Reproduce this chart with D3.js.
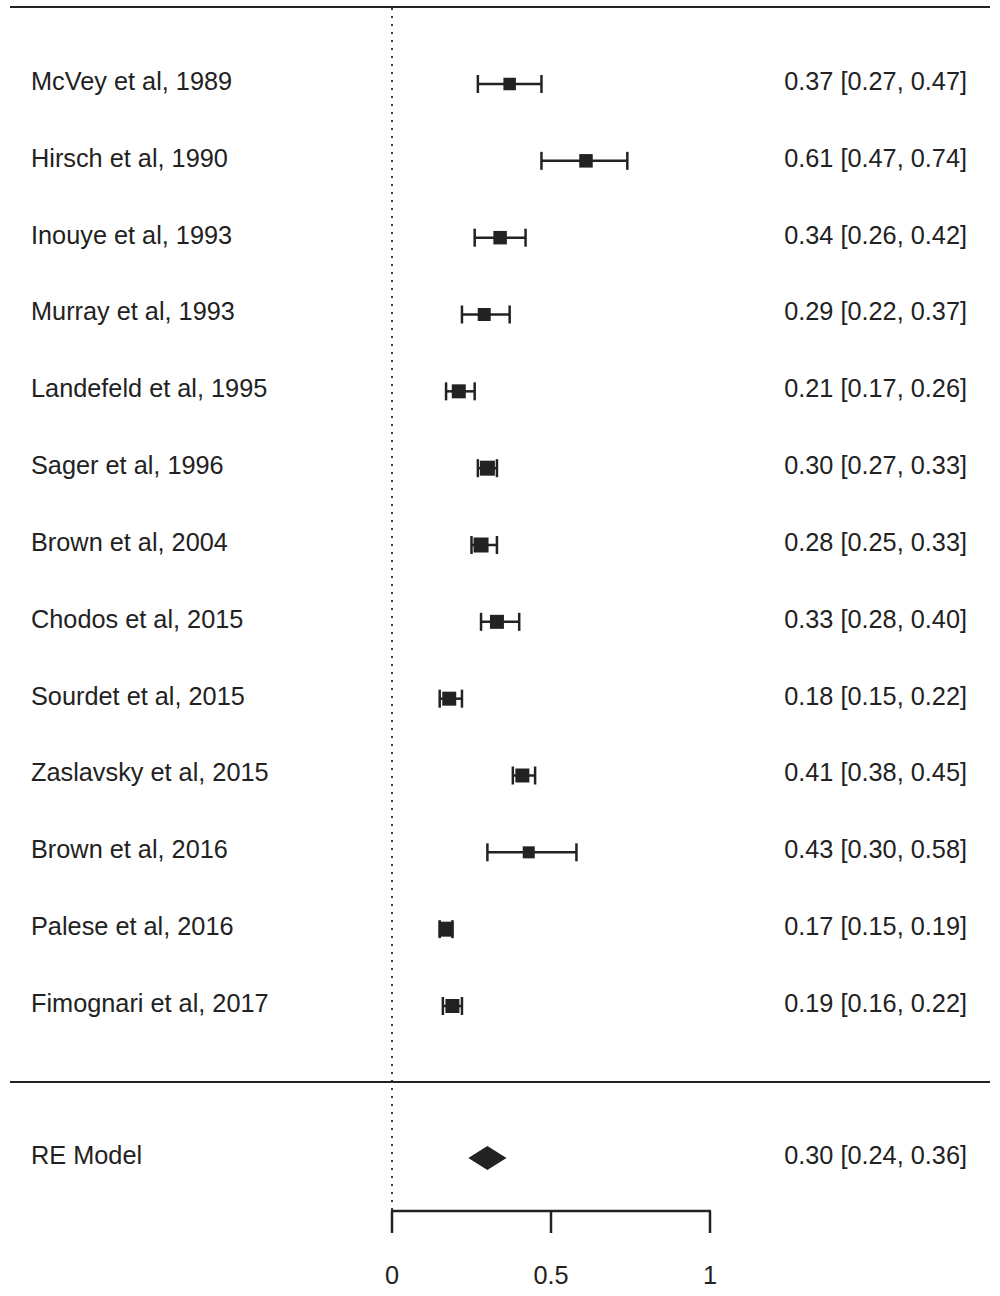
<!DOCTYPE html>
<html><head><meta charset="utf-8">
<script src="https://cdn.jsdelivr.net/npm/d3@7"></script>
<style>body{margin:0;background:#fff}svg{display:block}text{font-family:"Liberation Sans",Arial,sans-serif;fill:#222}</style>
</head><body>
<script>
const studies = ["McVey et al, 1989","Hirsch et al, 1990","Inouye et al, 1993","Murray et al, 1993","Landefeld et al, 1995","Sager et al, 1996","Brown et al, 2004","Chodos et al, 2015","Sourdet et al, 2015","Zaslavsky et al, 2015","Brown et al, 2016","Palese et al, 2016","Fimognari et al, 2017"];
const est   = [0.37,0.61,0.34,0.29,0.21,0.30,0.28,0.33,0.18,0.41,0.43,0.17,0.19];
const lower = [0.27,0.47,0.26,0.22,0.17,0.27,0.25,0.28,0.15,0.38,0.30,0.15,0.16];
const upper = [0.47,0.74,0.42,0.37,0.26,0.33,0.33,0.40,0.22,0.45,0.58,0.19,0.22];
const weights = [12.5,13.5,13.5,13,14,15,15,14,14,14,12,15,14];
const reLabel = "RE Model";
const reEst = 0.30, reLower = 0.24, reUpper = 0.36;
const xTicks = [0, 0.5, 1];
const xTickLabels = ["0","0.5","1"];

const W = 1000, H = 1296;
const svg = d3.select("body").append("svg").attr("width", W).attr("height", H);
const x = d3.scaleLinear().domain([0,1]).range([392,710]);
const y = d3.scaleLinear().domain([0,12]).range([83,1005]);
const fmt = d3.format(".2f");
const ink = "#222";
const fs = 25.3;

svg.append("line").attr("x1",10).attr("x2",990).attr("y1",7).attr("y2",7).attr("stroke",ink).attr("stroke-width",2.2);
svg.append("line").attr("x1",10).attr("x2",990).attr("y1",1082).attr("y2",1082).attr("stroke",ink).attr("stroke-width",2.2);
svg.append("line").attr("x1",x(0)).attr("x2",x(0)).attr("y1",8).attr("y2",1211)
  .attr("stroke",ink).attr("stroke-width",1.8).attr("stroke-dasharray","2,6");

const g = svg.append("g");
studies.forEach((s,i)=>{
  const yy = y(i);
  g.append("text").attr("x",31).attr("y",yy-2).attr("dy","0.35em").attr("font-size",fs).text(s);
  g.append("text").attr("x",967).attr("y",yy-2).attr("dy","0.35em").attr("text-anchor","end").attr("font-size",fs)
    .text(`${fmt(est[i])} [${fmt(lower[i])}, ${fmt(upper[i])}]`);
  const w = weights[i];
  g.append("rect").attr("x",x(est[i])-w/2).attr("y",yy-w/2+1).attr("width",w).attr("height",w).attr("fill",ink);
  g.append("line").attr("x1",x(lower[i])).attr("x2",x(upper[i])).attr("y1",yy+1).attr("y2",yy+1).attr("stroke",ink).attr("stroke-width",2.5);
  [lower[i],upper[i]].forEach(v=>{
    g.append("line").attr("x1",x(v)).attr("x2",x(v)).attr("y1",yy-8).attr("y2",yy+10).attr("stroke",ink).attr("stroke-width",2.5);
  });
});

const ry = 1158;
svg.append("text").attr("x",31).attr("y",1155).attr("dy","0.35em").attr("font-size",fs).text(reLabel);
svg.append("text").attr("x",967).attr("y",1155).attr("dy","0.35em").attr("text-anchor","end").attr("font-size",fs)
  .text(`${fmt(reEst)} [${fmt(reLower)}, ${fmt(reUpper)}]`);
svg.append("polygon").attr("points",[[x(reLower),ry],[x(reEst),ry-12],[x(reUpper),ry],[x(reEst),ry+12]].map(p=>p.join(",")).join(" "))
  .attr("fill",ink);

const axisG = svg.append("g").attr("transform","translate(0,1211)");
axisG.append("line").attr("x1",x(0)-1).attr("x2",x(1)+1).attr("stroke",ink).attr("stroke-width",2.5);
xTicks.forEach((t,i)=>{
  axisG.append("line").attr("x1",x(t)).attr("x2",x(t)).attr("y1",0).attr("y2",22).attr("stroke",ink).attr("stroke-width",2.5);
  axisG.append("text").attr("x",x(t)).attr("y",64).attr("dy","0.35em").attr("text-anchor","middle").attr("font-size",fs).text(xTickLabels[i]);
});
</script>
</body></html>
